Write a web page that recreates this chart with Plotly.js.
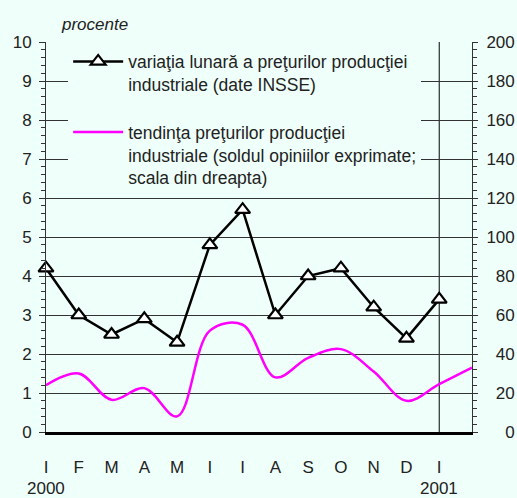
<!DOCTYPE html>
<html>
<head>
<meta charset="utf-8">
<script src="https://cdn.plot.ly/plotly-3.0.1.min.js"></script>
<style>
  html, body { margin: 0; padding: 0; background: #effffa; }
  #chart { width: 517px; height: 498px; }
</style>
</head>
<body>
<div id="chart"></div>
<script>
// months, Jan 2000 .. Jan 2001 (+ Feb 2001 for the balance series)
const monthLabels = ['I', 'F', 'M', 'A', 'M', 'I', 'I', 'A', 'S', 'O', 'N', 'D', 'I'];
const monthIdx = [0, 1, 2, 3, 4, 5, 6, 7, 8, 9, 10, 11, 12];
const trendIdx = [0, 1, 2, 3, 4, 5, 6, 7, 8, 9, 10, 11, 12, 13];

// monthly change of industrial producer prices, % (left scale)
const monthlyChange = [4.2, 3.0, 2.5, 2.9, 2.3, 4.8, 5.7, 3.0, 4.0, 4.2, 3.2, 2.4, 3.4];
// price trend, balance of opinions (right scale)
const priceTrend = [24, 30, 16.5, 22.5, 8, 52, 55, 28, 38, 42.5, 31, 16, 24.5, 33];

const leftTicks = [0, 1, 2, 3, 4, 5, 6, 7, 8, 9, 10];
const rightTicks = [0, 20, 40, 60, 80, 100, 120, 140, 160, 180, 200];
const years = [{x: 0, text: '2000'}, {x: 12, text: '2001'}];

const nameChange = 'variaţia lunară a preţurilor producţiei<br>industriale (date INSSE)';
const nameTrend = 'tendinţa preţurilor producţiei<br>industriale (soldul opiniilor exprimate;<br>scala din dreapta)';

const bg = '#effffa';
const ink = '#222';
const font = {family: '"Liberation Sans", Arial, sans-serif', size: 17, color: ink};
const legendFont = {family: '"Liberation Sans", Arial, sans-serif', size: 17.5, color: ink};

// pad right-axis labels so they line up on the right
const rightText = rightTicks.map(v => '\u2007'.repeat(3 - String(v).length) + v);

const traces = [
  {
    x: monthIdx, y: monthlyChange, name: nameChange,
    type: 'scatter', mode: 'lines+markers', legendgroup: 'a',
    line: {color: '#000', width: 2.5},
    marker: {symbol: 'triangle-up', size: 13, color: '#ffffff', line: {color: '#000', width: 2.2}},
    cliponaxis: false
  },
  {
    x: trendIdx, y: priceTrend, name: nameTrend, yaxis: 'y2',
    type: 'scatter', mode: 'lines', legendgroup: 'b',
    line: {color: '#ff00ff', width: 2.5, shape: 'spline', smoothing: 1}
  }
];

const layout = {
  width: 517, height: 498,
  margin: {l: 46, r: 45, t: 42, b: 66},
  paper_bgcolor: bg, plot_bgcolor: bg,
  font: font,
  showlegend: true,
  legend: {
    x: 0.052, y: 0.996, xanchor: 'left', yanchor: 'top',
    bgcolor: bg, borderwidth: 0, valign: 'top',
    traceorder: 'grouped', tracegroupgap: 22, itemwidth: 50,
    entrywidth: 338, entrywidthmode: 'pixels',
    font: legendFont
  },
  xaxis: {
    range: [0, 13], tickvals: monthIdx, ticktext: monthLabels,
    ticks: '', showgrid: false, zeroline: false,
    showline: true, linecolor: '#000', linewidth: 2.5,
    ticklabelstandoff: 18, tickfont: font
  },
  yaxis: {
    range: [0, 10], tickvals: leftTicks,
    ticks: 'outside', ticklen: 6, tickcolor: '#333', tickwidth: 1,
    minor: {dtick: 0.2, ticks: 'outside', ticklen: 4, tickcolor: '#333', showgrid: false},
    showgrid: true, gridcolor: '#333', gridwidth: 1, zeroline: false,
    showline: true, linecolor: '#333', linewidth: 1,
    tickfont: font, ticklabelstandoff: 4
  },
  yaxis2: {
    overlaying: 'y', side: 'right', range: [0, 200],
    tickvals: rightTicks, ticktext: rightText,
    ticks: 'outside', ticklen: 5, tickcolor: '#333', tickwidth: 1,
    minor: {dtick: 4, ticks: 'outside', ticklen: 4, tickcolor: '#333', showgrid: false},
    showgrid: false, zeroline: false,
    showline: true, linecolor: '#333', linewidth: 1,
    tickfont: font, ticklabelstandoff: 5
  },
  shapes: [
    {type: 'line', xref: 'x', yref: 'paper', x0: 12, x1: 12, y0: 0, y1: 1,
     line: {color: '#000', width: 1}, layer: 'below'}
  ],
  annotations: [
    {xref: 'paper', yref: 'paper', x: 0.03, y: 1.045, xanchor: 'left', yanchor: 'middle',
     text: '<i>procente</i>', showarrow: false, font: font}
  ].concat(years.map(d => ({
    xref: 'x', yref: 'paper', x: d.x, y: -0.1436, xanchor: 'center', yanchor: 'middle',
    text: d.text, showarrow: false, font: font
  })))
};

Plotly.newPlot('chart', traces, layout, {displayModeBar: false, staticPlot: true});
</script>
</body>
</html>
